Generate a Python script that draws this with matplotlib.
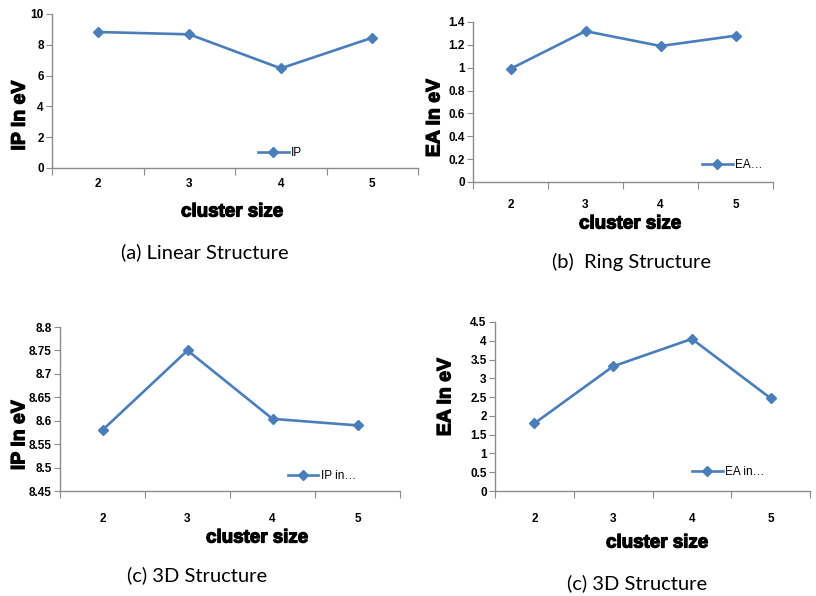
import matplotlib
matplotlib.use("Agg")
import matplotlib.pyplot as plt
import matplotlib.patheffects as pe
from matplotlib.ticker import FixedLocator, NullFormatter

# cluster sizes on the x axis
sizes = [2, 3, 4, 5]

# (a) linear structure, ionisation potential
ip_linear = [8.83, 8.68, 6.47, 8.46]
# (b) ring structure, electron affinity
ea_ring = [0.99, 1.32, 1.19, 1.28]
# (c) 3D structure, ionisation potential
ip_3d = [8.58, 8.75, 8.604, 8.59]
# (d) 3D structure, electron affinity
ea_3d = [1.8, 3.32, 4.05, 2.47]

ticks_a = [0, 2, 4, 6, 8, 10]
ticks_b = [0, 0.2, 0.4, 0.6, 0.8, 1, 1.2, 1.4]
ticks_c = [8.45, 8.5, 8.55, 8.6, 8.65, 8.7, 8.75, 8.8]
ticks_d = [0, 0.5, 1, 1.5, 2, 2.5, 3, 3.5, 4, 4.5]

W, H = 816, 596
LINE = "#4A7EBB"
GREY = "#8C8C8C"
BOLD = "Liberation Sans"
CAPTION = "Lato"
# thickens the bold axis titles a little
HEAVY = [pe.withStroke(linewidth=0.9, foreground="black")]

fig = plt.figure(figsize=(W / 100, H / 100), dpi=100)
fig.patch.set_facecolor("white")


def box(l, t, r, b):
    return [l / W, 1 - b / H, (r - l) / W, (b - t) / H]


def ftext(x, y, s, **kw):
    return fig.text(x / W, 1 - y / H, s, ha="center", va="center", **kw)


def panel(rect, vals, yticks, legend_label, leg_xy, ylabel, ylab_xy, xpad):
    ax = fig.add_axes(box(*rect))
    n = len(sizes)
    x = list(range(n))
    ax.plot(x, vals, color=LINE, lw=1.9, marker="D", ms=5, mfc=LINE, mec=LINE,
            label=legend_label)
    ax.set_xlim(-0.5, n - 0.5)
    ax.set_ylim(yticks[0], yticks[-1])

    for s in ["top", "right"]:
        ax.spines[s].set_visible(False)
    for s in ["left", "bottom"]:
        ax.spines[s].set_color(GREY)
        ax.spines[s].set_linewidth(1.0)

    # category boundaries carry the tick marks, centres carry the labels
    ax.xaxis.set_major_locator(FixedLocator([i - 0.5 for i in range(n + 1)]))
    ax.xaxis.set_major_formatter(NullFormatter())
    ax.set_xticks(x, [str(s) for s in sizes], minor=True)
    ax.tick_params(axis="x", which="major", length=5, color=GREY, direction="out")
    ax.tick_params(axis="x", which="minor", length=0, pad=xpad)

    ax.set_yticks(yticks, [f"{v:g}" for v in yticks])
    ax.tick_params(axis="y", length=4, color=GREY, direction="out", pad=2)
    for lab in ax.get_xticklabels(minor=True) + ax.get_yticklabels():
        lab.set_fontfamily(BOLD)
        lab.set_fontweight("bold")
        lab.set_fontsize(8.5)

    leg = ax.legend(loc="center left", bbox_to_anchor=leg_xy, frameon=False,
                    borderpad=0, borderaxespad=0, handlelength=2.6,
                    handletextpad=0.2, prop={"family": BOLD, "size": 8.5})
    leg.set_zorder(5)

    ax.text(ylab_xy[0], ylab_xy[1], ylabel, transform=ax.transAxes, rotation=90,
            ha="center", va="center", fontfamily=BOLD, fontweight="bold",
            fontsize=14, zorder=6, path_effects=HEAVY)
    return ax


panel((52, 14, 418, 168), ip_linear, ticks_a, "IP", (0.563, 0.097),
      "IP In eV", (-0.087, 0.34), xpad=7)
panel((473, 22, 773, 182), ea_ring, ticks_b, "EA\u2026", (0.763, 0.106),
      "EA In eV", (-0.127, 0.40), xpad=12)
panel((60, 327, 400, 491), ip_3d, ticks_c, "IP in\u2026", (0.67, 0.091),
      "IP In eV", (-0.118, 0.34), xpad=16)
panel((495, 322, 810, 491), ea_3d, ticks_d, "EA in\u2026", (0.625, 0.112),
      "EA In eV", (-0.156, 0.556), xpad=16)

# axis titles under each chart
for xc, yc in [(232, 212), (630, 224), (257, 538), (657, 543)]:
    ftext(xc, yc, "cluster size", fontfamily=BOLD, fontweight="bold",
          fontsize=13.5, path_effects=HEAVY)

# panel captions
ftext(205, 252, "(a) Linear Structure", fontfamily=CAPTION, fontsize=14.5)
ftext(632, 262, "(b)  Ring Structure", fontfamily=CAPTION, fontsize=14.5)
ftext(197, 575, "(c) 3D Structure", fontfamily=CAPTION, fontsize=14.5)
ftext(637, 583, "(c) 3D Structure", fontfamily=CAPTION, fontsize=14.5)

fig.savefig("out.png", dpi=100, facecolor="white")
